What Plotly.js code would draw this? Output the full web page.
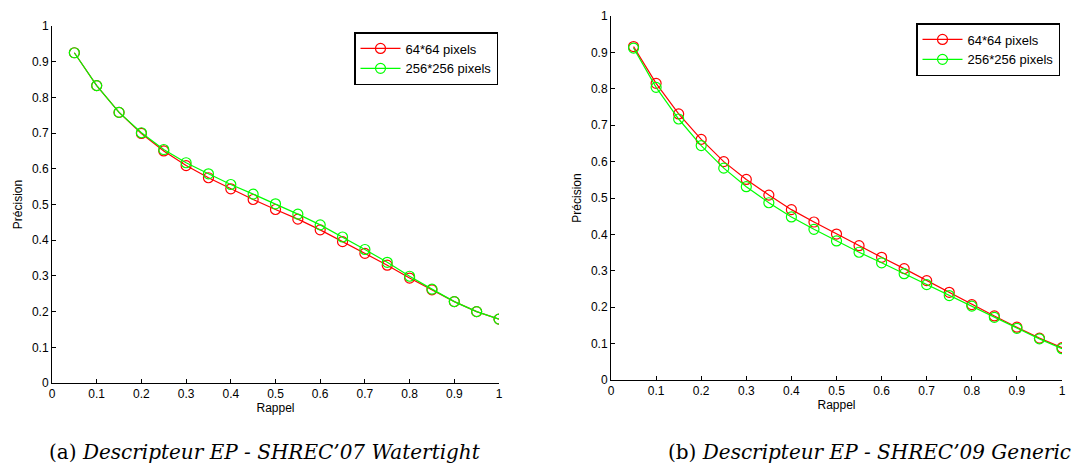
<!DOCTYPE html>
<html><head><meta charset="utf-8">
<script src="https://cdn.plot.ly/plotly-3.0.1.min.js"></script>
<style>html,body{margin:0;padding:0;background:#fff}#c{width:1073px;height:468px}</style>
</head><body><div id="c"></div>
<script>
const recall = [0.05,0.1,0.15,0.2,0.25,0.3,0.35,0.4,0.45,0.5,0.55,0.6,0.65,0.7,0.75,0.8,0.85,0.9,0.95,1.0];
const ticks = [0,0.1,0.2,0.3,0.4,0.5,0.6,0.7,0.8,0.9,1];
const tickLabels = ["0","0.1","0.2","0.3","0.4","0.5","0.6","0.7","0.8","0.9","1"];
const seriesNames = ["64*64 pixels","256*256 pixels"];
const a_64 = [0.925,0.833,0.758,0.699,0.650,0.609,0.575,0.544,0.514,0.486,0.459,0.429,0.396,0.363,0.330,0.294,0.261,0.228,0.200,0.179];
const a_256 = [0.925,0.833,0.758,0.701,0.654,0.617,0.586,0.556,0.529,0.502,0.473,0.443,0.409,0.374,0.338,0.299,0.263,0.228,0.200,0.179];
const b_64 = [0.916,0.815,0.731,0.661,0.600,0.551,0.508,0.468,0.434,0.401,0.369,0.337,0.306,0.273,0.241,0.207,0.176,0.145,0.115,0.089];
const b_256 = [0.912,0.804,0.717,0.644,0.582,0.531,0.487,0.448,0.414,0.382,0.351,0.322,0.292,0.262,0.232,0.203,0.172,0.142,0.113,0.086];
const captions = ["(a) <i>Descripteur EP - SHREC’07 Watertight</i>","(b) <i>Descripteur EP - SHREC’09 Generic</i>"];
const xTitle = "Rappel", yTitle = "Précision";

const W=1073,H=468;
const RED="#ff0000", GREEN="#00ff00";
function tr(x,y,name,color,xa,ya,leg){
  return {x:x,y:y,name:name,type:"scatter",mode:"lines+markers",xaxis:xa,yaxis:ya,legend:leg,
    line:{color:color,width:1.2},marker:{symbol:"circle-open",size:10,color:color,line:{width:1.2,color:color}}};
}
const data=[
  tr(recall,a_64,seriesNames[0],RED,"x","y","legend"),
  tr(recall,a_256,seriesNames[1],GREEN,"x","y","legend"),
  tr(recall,b_64,seriesNames[0],RED,"x2","y2","legend2"),
  tr(recall,b_256,seriesNames[1],GREEN,"x2","y2","legend2")
];
const FF="Liberation Sans, Arial, sans-serif";
const tf={family:FF,size:12,color:"#000"};
function ax(dom,anchor,title,standoff){
  return {domain:dom,anchor:anchor,range:[0,1],tickmode:"array",tickvals:ticks,ticktext:tickLabels,
    ticks:"inside",ticklen:4,tickcolor:"#000",showline:true,linecolor:"#000",linewidth:1,mirror:false,
    showgrid:false,zeroline:false,tickfont:tf,title:{text:title,font:tf,standoff:standoff},automargin:false};
}
const legBase={bgcolor:"#fff",bordercolor:"#000",borderwidth:1.5,font:{family:FF,size:13,color:"#000"},
  xanchor:"left",yanchor:"top",tracegroupgap:0,itemwidth:40};
const capFont={family:"DejaVu Serif, Liberation Serif, serif",size:20,color:"#000"};
const layout={
  width:W,height:H,margin:{l:0,r:0,t:0,b:0},paper_bgcolor:"#fff",plot_bgcolor:"#fff",
  xaxis:ax([52/W,499/W],"y",xTitle,1),
  yaxis:ax([1-383/H,1-26/H],"x",yTitle,6),
  xaxis2:ax([611/W,1062/W],"y2",xTitle,1),
  yaxis2:ax([1-380/H,1-16/H],"x2",yTitle,6),
  legend:Object.assign({},legBase,{x:354/W,y:1-32/H}),
  legend2:Object.assign({},legBase,{x:916/W,y:1-23/H}),
  annotations:[
    {text:captions[0],xref:"paper",yref:"paper",x:265/W,y:1-452/H,showarrow:false,xanchor:"center",yanchor:"middle",font:capFont},
    {text:captions[1],xref:"paper",yref:"paper",x:869/W,y:1-452/H,showarrow:false,xanchor:"center",yanchor:"middle",font:capFont}
  ],
  showlegend:true
};
Plotly.newPlot("c",data,layout,{displayModeBar:false,staticPlot:true});
</script></body></html>
